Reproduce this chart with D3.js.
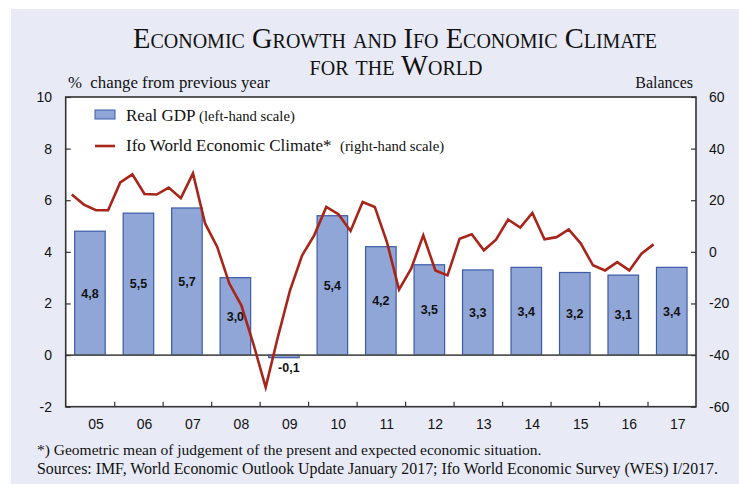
<!DOCTYPE html>
<html>
<head>
<meta charset="utf-8">
<script src="https://cdn.jsdelivr.net/npm/d3@7"></script>
<style>
  html, body { margin: 0; padding: 0; background: #ffffff; }
  svg { display: block; }
</style>
</head>
<body>
<svg id="chart" width="739" height="484"></svg>
<script>
// ---- data ----
const years = ["05","06","07","08","09","10","11","12","13","14","15","16","17"];
const gdp = [4.8, 5.5, 5.7, 3.0, -0.1, 5.4, 4.2, 3.5, 3.3, 3.4, 3.2, 3.1, 3.4];
const gdpLabels = ["4,8","5,5","5,7","3,0","-0,1","5,4","4,2","3,5","3,3","3,4","3,2","3,1","3,4"];
// Ifo World Economic Climate, quarterly, 2005 Q1 .. 2017 Q1
const ifo = [
  22.2, 18.3, 16.1, 16.1,
  26.9, 30.0, 22.4, 22.2,
  24.9, 20.8, 30.4, 11.0,
  1.9, -12.3, -20.8, -35.9,
  -52.5, -33.1, -15.0, -1.4,
  6.4, 17.4, 14.6, 8.1,
  19.3, 17.4, 3.8, -14.6,
  -6.5, 6.4, -7.2, -9.1,
  5.1, 6.8, 0.6, 4.7,
  12.5, 9.4, 15.1, 4.9,
  5.7, 8.7, 3.2, -5.2,
  -7.2, -4.0, -7.2, -0.7,
  2.9
];
const leftTicks = [-2, 0, 2, 4, 6, 8, 10];
const rightTicks = [-60, -40, -20, 0, 20, 40, 60];

// ---- layout ----
const svg = d3.select("#chart");
const L = 65.7, R = 696, T = 97, B = 406.7;
const bgCol = "#e8ebf6";
const barFill = "#8fa6d6", barStroke = "#3c5aa8", lineCol = "#a8251a";

svg.append("rect").attr("x", 11).attr("y", 9).attr("width", 739 - 11).attr("height", 484 - 9).attr("fill", bgCol);
svg.append("rect").attr("x", L).attr("y", T).attr("width", R - L).attr("height", B - T).attr("fill", "#fff");

const x = d3.scaleBand().domain(years).range([L, R]).paddingInner(0.37).paddingOuter(0.185);
const xb = d3.scaleBand().domain(years).range([L, R]);
const xt = d3.scaleLinear().domain([0, years.length]).range([L, R]);
const yL = d3.scaleLinear().domain([-2, 10]).range([B, T]);
const yR = d3.scaleLinear().domain([-60, 60]).range([B, T]);

// bars
svg.append("g").selectAll("rect").data(gdp).join("rect")
  .attr("x", (d, i) => x(years[i]))
  .attr("width", x.bandwidth())
  .attr("y", d => Math.min(yL(d), yL(0)))
  .attr("height", d => Math.abs(yL(d) - yL(0)))
  .attr("fill", barFill).attr("stroke", barStroke).attr("stroke-width", 1.2);

// zero line
svg.append("line").attr("x1", L).attr("x2", R).attr("y1", yL(0)).attr("y2", yL(0))
  .attr("stroke", "#555").attr("stroke-width", 1.6);

// bar labels
svg.append("g").selectAll("text").data(gdp).join("text")
  .attr("x", (d, i) => x(years[i]) + x.bandwidth() / 2 + (d < 0 ? 5 : 0))
  .attr("y", d => d >= 0 ? (yL(d) + yL(0)) / 2 : yL(0) + 13)
  .attr("dy", "0.35em")
  .attr("text-anchor", "middle")
  .attr("font-family", "Liberation Sans, Arial, sans-serif")
  .attr("font-weight", "bold").attr("font-size", 12.5).attr("fill", "#111")
  .text((d, i) => gdpLabels[i]);

// ifo line
const line = d3.line()
  .x((d, i) => xt(i / 4 + 0.125))
  .y(d => yR(d));
svg.append("path").datum(ifo).attr("d", line)
  .attr("fill", "none").attr("stroke", lineCol).attr("stroke-width", 2.6).attr("stroke-linejoin", "miter");

// frame
svg.append("rect").attr("x", L).attr("y", T).attr("width", R - L).attr("height", B - T)
  .attr("fill", "none").attr("stroke", "#333").attr("stroke-width", 1.6);

// axes
const fontAx = "Liberation Sans, Arial, sans-serif";
const gL = svg.append("g").attr("transform", `translate(${L},0)`)
  .call(d3.axisRight(yL).tickValues(leftTicks).tickSize(5).tickFormat(""));
gL.select(".domain").remove();
gL.selectAll("line").attr("stroke", "#333").attr("stroke-width", 1.2);
svg.append("g").selectAll("text").data(leftTicks).join("text")
  .attr("x", 52).attr("y", d => yL(d)).attr("dy", "0.35em").attr("text-anchor", "end")
  .attr("font-family", fontAx).attr("font-size", 14).attr("fill", "#111").text(d => d);

const gR = svg.append("g").attr("transform", `translate(${R},0)`)
  .call(d3.axisLeft(yR).tickValues(rightTicks).tickSize(5).tickFormat(""));
gR.select(".domain").remove();
gR.selectAll("line").attr("stroke", "#333").attr("stroke-width", 1.2);
svg.append("g").selectAll("text").data(rightTicks).join("text")
  .attr("x", 709).attr("y", d => yR(d)).attr("dy", "0.35em").attr("text-anchor", "start")
  .attr("font-family", fontAx).attr("font-size", 14).attr("fill", "#111").text(d => d);

const gB = svg.append("g").attr("transform", `translate(0,${B})`)
  .call(d3.axisTop(d3.scaleLinear().domain([0, years.length]).range([L, R]))
    .tickValues(d3.range(1, years.length)).tickSize(5).tickFormat(""));
gB.select(".domain").remove();
gB.selectAll("line").attr("stroke", "#333").attr("stroke-width", 1.2);
svg.append("g").selectAll("text").data(years).join("text")
  .attr("x", d => xb(d) + xb.bandwidth() / 2 + 6).attr("y", 429)
  .attr("text-anchor", "middle")
  .attr("font-family", fontAx).attr("font-size", 14).attr("fill", "#111").text(d => d);

// titles
const serif = "Liberation Serif, Times New Roman, serif";
svg.append("text").attr("x", 395).attr("y", 48).attr("text-anchor", "middle")
  .attr("font-family", serif).attr("font-size", 28.5).style("font-variant", "small-caps")
  .attr("fill", "#111").text("Economic Growth and Ifo Economic Climate");
svg.append("text").attr("x", 396).attr("y", 75).attr("text-anchor", "middle")
  .attr("font-family", serif).attr("font-size", 28.5).style("font-variant", "small-caps")
  .attr("fill", "#111").text("for the World");

svg.append("text").attr("x", 68).attr("y", 88).attr("font-family", serif).attr("font-size", 16.8)
  .attr("fill", "#111").attr("xml:space", "preserve").text("%  change from previous year");
svg.append("text").attr("x", 693).attr("y", 88).attr("text-anchor", "end").attr("font-family", serif)
  .attr("font-size", 16).attr("fill", "#111").text("Balances");

// legend
svg.append("rect").attr("x", 95).attr("y", 110).attr("width", 20).attr("height", 9)
  .attr("fill", barFill).attr("stroke", barStroke).attr("stroke-width", 1);
const t1 = svg.append("text").attr("x", 126).attr("y", 121).attr("font-family", serif).attr("fill", "#111");
t1.append("tspan").attr("font-size", 17).text("Real GDP ");
t1.append("tspan").attr("font-size", 14.7).text("(left-hand scale)");
svg.append("line").attr("x1", 95).attr("x2", 115).attr("y1", 146).attr("y2", 146)
  .attr("stroke", lineCol).attr("stroke-width", 2.6);
const t2 = svg.append("text").attr("x", 126).attr("y", 151).attr("font-family", serif).attr("fill", "#111")
  .attr("xml:space", "preserve");
t2.append("tspan").attr("font-size", 17).text("Ifo World Economic Climate*  ");
t2.append("tspan").attr("font-size", 14.7).text("(right-hand scale)");

// footnotes
svg.append("text").attr("x", 37).attr("y", 455).attr("font-family", serif).attr("font-size", 15.5)
  .attr("fill", "#111").text("*) Geometric mean of judgement of the present and expected economic situation.");
svg.append("text").attr("x", 37).attr("y", 474).attr("font-family", serif).attr("font-size", 15.9)
  .attr("fill", "#111").text("Sources: IMF, World Economic Outlook Update January 2017; Ifo World Economic Survey (WES) I/2017.");
</script>
</body>
</html>
